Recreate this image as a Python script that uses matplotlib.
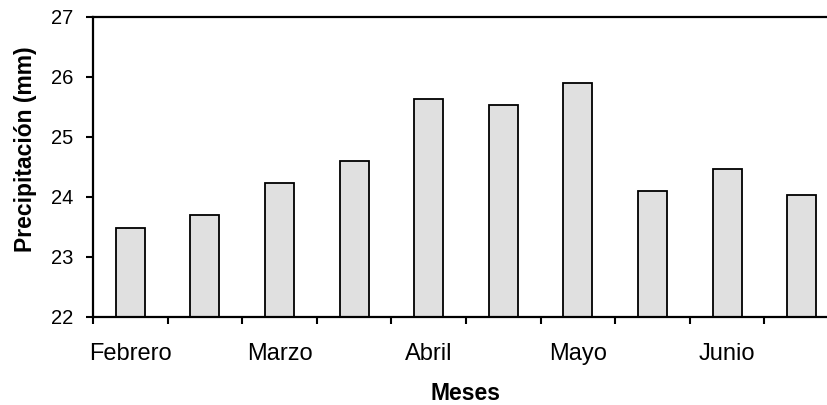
import matplotlib
matplotlib.use("Agg")
import matplotlib.pyplot as plt
import numpy as np

plt.rcParams['font.family'] = ['Liberation Sans', 'DejaVu Sans']

values = [23.48, 23.70, 24.23, 24.60, 25.63, 25.53, 25.90, 24.10, 24.46, 24.03]
month_labels = ["Febrero", "Marzo", "Abril", "Mayo", "Junio"]
yticks = [22, 23, 24, 25, 26, 27]

fig = plt.figure(figsize=(8.28, 4.05), dpi=100)
ax = fig.add_axes([93/828, 88/405, 746/828, 300.5/405])

x = np.arange(len(values)) + 0.5
ax.bar(x, np.array(values) - 22, bottom=22, width=0.39, color='#e0e0e0',
       edgecolor='black', linewidth=1.3)

ax.set_xlim(0, len(values))
ax.set_ylim(22, 27)
ax.set_yticks(yticks)
ax.set_xticks(np.arange(len(values) + 1))
ax.set_xticklabels([])
ax.set_xticks(x[::2], minor=True)
ax.set_xticklabels(month_labels, minor=True)
ax.tick_params(axis='x', which='minor', length=0, pad=19, labelsize=17)
ax.tick_params(axis='x', which='major', length=5, width=1.5, direction='out')
ax.tick_params(axis='y', length=5, width=1.5, direction='out', labelsize=14.5, pad=9)

for s in ax.spines.values():
    s.set_linewidth(1.6)

ax.set_xlabel("Meses", fontsize=16.5, fontweight='bold', va='center')
ax.xaxis.set_label_coords(0.5, (12 - 88) / 300.5)
ax.set_ylabel("Precipitación (mm)", fontsize=16.5, fontweight='bold', va='center')
ax.yaxis.set_label_coords((26 - 93) / 746, (256 - 88) / 300.5)

fig.savefig("out.png", dpi=100)
